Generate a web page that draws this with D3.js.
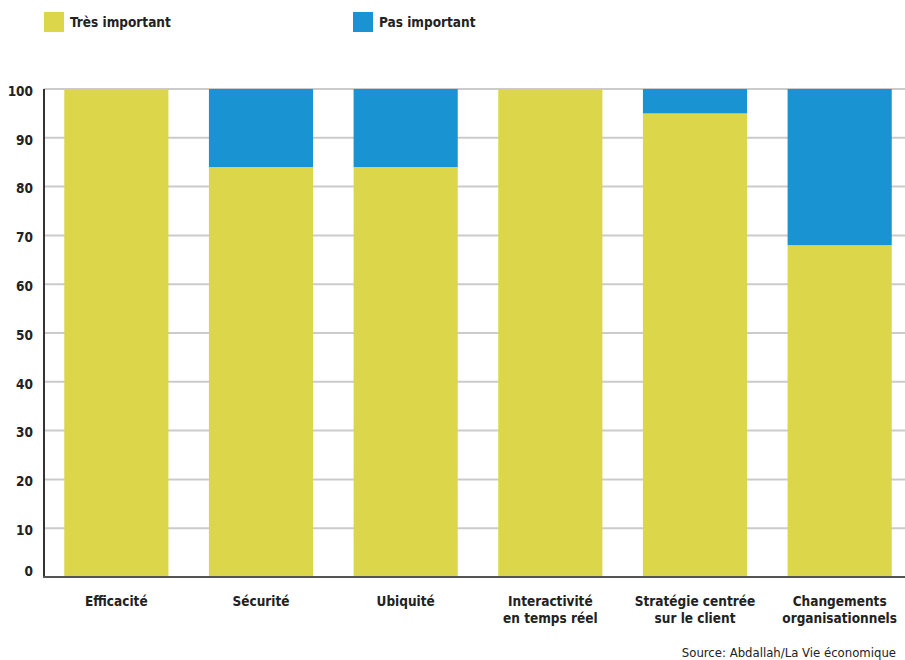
<!DOCTYPE html>
<html><head><meta charset="utf-8">
<script src="https://cdn.jsdelivr.net/npm/d3@7"></script>
<style>
body{margin:0;background:#fff;}
text{font-family:"Liberation Sans Narrow","DejaVu Sans Condensed","Roboto Condensed",sans-serif;}
</style></head>
<body>
<svg id="chart" width="905" height="660"></svg>
<script>
const categories = [["Efficacité"],["Sécurité"],["Ubiquité"],["Interactivité","en temps réel"],["Stratégie centrée","sur le client"],["Changements","organisationnels"]];
const tresImportant = [100, 84, 84, 100, 95, 68];
const pasImportant = [0, 16, 16, 0, 5, 32];
const yTicks = [0,10,20,30,40,50,60,70,80,90,100];
const seriesNames = ["Très important","Pas important"];
const colors = ["#DCD64A","#1A93D3"];

const svg = d3.select("#chart");
const x0 = 44;
const xb = d3.scaleBand().domain(d3.range(categories.length)).range([44, 912]).paddingInner(0.28).paddingOuter(0.14);
const y = d3.scaleLinear().domain([0,100]).range([577, 89]);

// gridlines
svg.append("g").selectAll("line").data(yTicks.filter(d=>d>0)).join("line")
  .attr("x1", x0).attr("x2", 905).attr("y1", d=>y(d)).attr("y2", d=>y(d))
  .attr("stroke", "#cbcbcb").attr("stroke-width", 2);

// bars
const g = svg.append("g");
categories.forEach((c,i)=>{
  g.append("rect").attr("x", xb(i)).attr("width", xb.bandwidth())
    .attr("y", y(tresImportant[i])).attr("height", y(0)-y(tresImportant[i])).attr("fill", colors[0]);
  if (pasImportant[i] > 0) {
    g.append("rect").attr("x", xb(i)).attr("width", xb.bandwidth())
      .attr("y", y(tresImportant[i]+pasImportant[i])).attr("height", y(tresImportant[i]) - y(tresImportant[i]+pasImportant[i])).attr("fill", colors[1]);
  }
});

// axes lines
svg.append("line").attr("x1", x0).attr("x2", x0).attr("y1", y(100)).attr("y2", y(0)+1).attr("stroke","#333").attr("stroke-width",2);
svg.append("line").attr("x1", x0-1).attr("x2", 905).attr("y1", y(0)).attr("y2", y(0)).attr("stroke","#555").attr("stroke-width",2);

// y labels
svg.append("g").selectAll("text").data(yTicks).join("text")
  .attr("x", 33).attr("y", d=>y(d)).attr("dy", d=> d===0 ? "-0.1em" : "0.5em")
  .attr("text-anchor","end").attr("font-size", 13.5).attr("font-weight","bold").attr("fill","#222")
  .text(d=>d);

// x labels
const xl = svg.append("g");
categories.forEach((c,i)=>{
  const t = xl.append("text").attr("x", xb(i)+xb.bandwidth()/2).attr("y", 606)
    .attr("text-anchor","middle").attr("font-size", 13.5).attr("font-weight","bold").attr("fill","#222");
  c.forEach((line,j)=>{
    t.append("tspan").attr("x", xb(i)+xb.bandwidth()/2).attr("dy", j===0?0:17).text(line);
  });
});

// legend
const legX = [44, 353];
seriesNames.forEach((n,i)=>{
  svg.append("rect").attr("x", legX[i]).attr("y", 12).attr("width", 20).attr("height", 20).attr("fill", colors[i]);
  svg.append("text").attr("x", legX[i]+26).attr("y", 27).attr("font-size", 13.5).attr("font-weight","bold").attr("fill","#222").text(n);
});

// source
svg.append("text").attr("x", 896).attr("y", 657).attr("font-size", 13).attr("fill","#222")
  .attr("text-anchor","end")
  .text("Source: Abdallah/La Vie économique");
</script>
</body></html>
